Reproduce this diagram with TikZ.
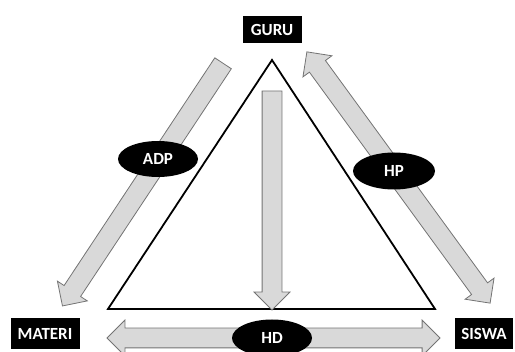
\documentclass[tikz,border=0pt]{standalone}
\usepackage{fontspec}
\setmainfont{Carlito}
\usetikzlibrary{shapes.geometric,shapes.arrows}

\begin{document}
\begin{tikzpicture}[x=1pt,y=-1pt,
		role/.style={fill=black,text=white,inner sep=0pt,font=\fontsize{17}{19}\selectfont\bfseries},
		tag/.style={ellipse,fill=black,text=white,inner sep=0pt,minimum width=80pt,minimum height=36pt,font=\fontsize{17}{19}\selectfont\bfseries},
		onearrow/.style={single arrow,draw=black!55,line width=0.8pt,fill=black!15,inner xsep=0pt,inner ysep=9.5pt,single arrow head extend=8pt},
		twoarrow/.style={double arrow,draw=black!55,line width=0.8pt,fill=black!15,inner xsep=0pt,inner ysep=9.5pt,double arrow head extend=8pt}]
		\useasboundingbox (0,0) rectangle (515,352);

		% the three roles
		\node[role,minimum width=59pt,minimum height=27pt] (guru) at (272,30) {GURU};
		\node[role,minimum width=69pt,minimum height=31pt] (materi) at (45,334) {MATERI};
		\node[role,minimum width=58pt,minimum height=31pt] (siswa) at (484,334) {SISWA};

		% triangle
		\coordinate (top) at (272,60);
		\coordinate (left) at (108,309);
		\coordinate (right) at (435,309);
		\draw[line width=1.8pt,line join=miter] (top) -- (left) -- (right) -- cycle;

		% block arrows
		\node[onearrow,minimum height=291pt,rotate=236.5] (adparrow) at (145.5,180.5) {};
		\node[twoarrow,minimum height=311pt,rotate=-53.9] (hparrow) at (398.5,177.5) {};
		\node[onearrow,minimum height=219pt,rotate=-90] (downarrow) at (272,195.5) {};
		\node[twoarrow,minimum height=333pt] (hdarrow) at (273.5,338) {};

		% labels
		\node[tag] (adp) at (158,159) {ADP};
		\node[tag,minimum width=82pt,minimum height=37pt] (hp) at (394,171) {HP};
		\node[tag,minimum height=37pt] (hd) at (272,338) {HD};
	\end{tikzpicture}
\end{document}
